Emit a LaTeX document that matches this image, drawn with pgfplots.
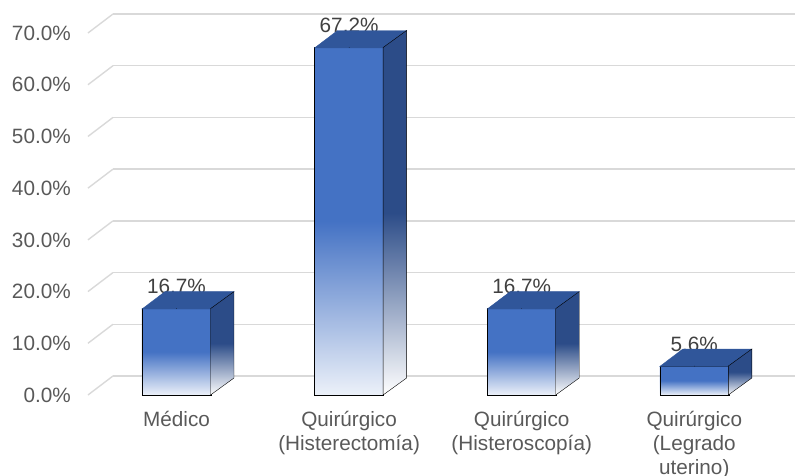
\documentclass[border=0pt]{standalone}
\usepackage{pgfplots}
\pgfplotsset{compat=1.18}
\usepackage{fontspec}
\setmainfont{Liberation Sans}

\definecolor{barfront}{HTML}{4472C4}
\definecolor{bartop}{HTML}{30569A}
\definecolor{barside}{HTML}{2C4C88}
\definecolor{gridc}{HTML}{D9D9D9}
\definecolor{labelc}{HTML}{595959}
\definecolor{valc}{HTML}{404040}

\newcommand{\chartfont}{\fontsize{20.8}{24}\selectfont}

\pgfplotstableread{
x  share
0  16.7
1  67.2
2  16.7
3  5.6
}\sharetable

\begin{document}
\begin{tikzpicture}
\useasboundingbox (-176.5bp,-81bp) rectangle (618.5bp,395bp);
\begin{axis}[
  at={(0,0)}, anchor=origin,
  x=172.6bp, y=5.171bp,
  xmin=-0.513, xmax=3.44, ymin=0, ymax=70,
  axis line style={draw=none},
  major tick length=0pt,
  tick style={draw=none},
  clip=false,
  /pgf/number format/assume math mode=true,
  tick label style={font=\chartfont, text=labelc},
  ytick={0,10,...,70},
  yticklabel={\pgfmathprintnumber[fixed,fixed zerofill,precision=1]{\tick}\%},
  yticklabel style={anchor=east, inner sep=0pt, xshift=-17bp},
  xtick={0,1,2,3},
  xticklabels={Médico, Quirúrgico\\(Histerectomía), Quirúrgico\\(Histeroscopía), Quirúrgico\\(Legrado\\uterino)},
  xticklabel style={align=center, anchor=north, inner sep=0pt, yshift=-16bp},
  ymajorgrids,
  major grid style={gridc, line width=1.4bp, shift={(25bp,19bp)}},
  after end axis/.code={
    \foreach \v in {0,10,...,70}{
      \draw[gridc, line width=1.4bp] (axis cs:-0.513,\v) -- ++(25bp,19bp);
    }
  },
]
% value labels, drawn first so the bar tops sit over their lower edge
\addplot[only marks, mark=none,
  nodes near coords={\pgfmathprintnumber[fixed,fixed zerofill,precision=1]{\pgfplotspointmeta}\%},
  every node near coord/.append style={font=\chartfont, text=valc, anchor=base, inner sep=0pt, yshift=15bp},
] table[x=x, y=share] {\sharetable};

% 3D bars: front, top and side faces drawn at each data point
\addplot[scatter, only marks, mark=*, mark size=0.01pt,
  mark options={draw=none, fill=none},
  visualization depends on={rawy \as \rawy},
  scatter/@pre marker code/.code={%
    \begin{scope}
    \pgfmathsetlengthmacro{\hb}{(17-\rawy*5.171)*1bp}%
    \pgfmathsetlengthmacro{\hf}{(-\rawy*5.171)*1bp}%
    \shade[top color=barfront, bottom color=white!90!barfront, middle color=barfront]
      (-34.5bp,0pt) rectangle (34.5bp,\hf);
    \fill[bartop] (-34.5bp,-0.4bp) -- (34.5bp,-0.4bp) -- (57.5bp,17bp) -- (-11.5bp,17bp) -- cycle;
    \shade[top color=barside, bottom color=white, middle color=barside]
      (34bp,0pt) -- (57.5bp,17bp) -- (57.5bp,\hb) -- (34bp,\hf) -- cycle;
  },
  scatter/@post marker code/.code={\end{scope}},
] table[x=x, y=share] {\sharetable};
\end{axis}
\end{tikzpicture}
\end{document}
